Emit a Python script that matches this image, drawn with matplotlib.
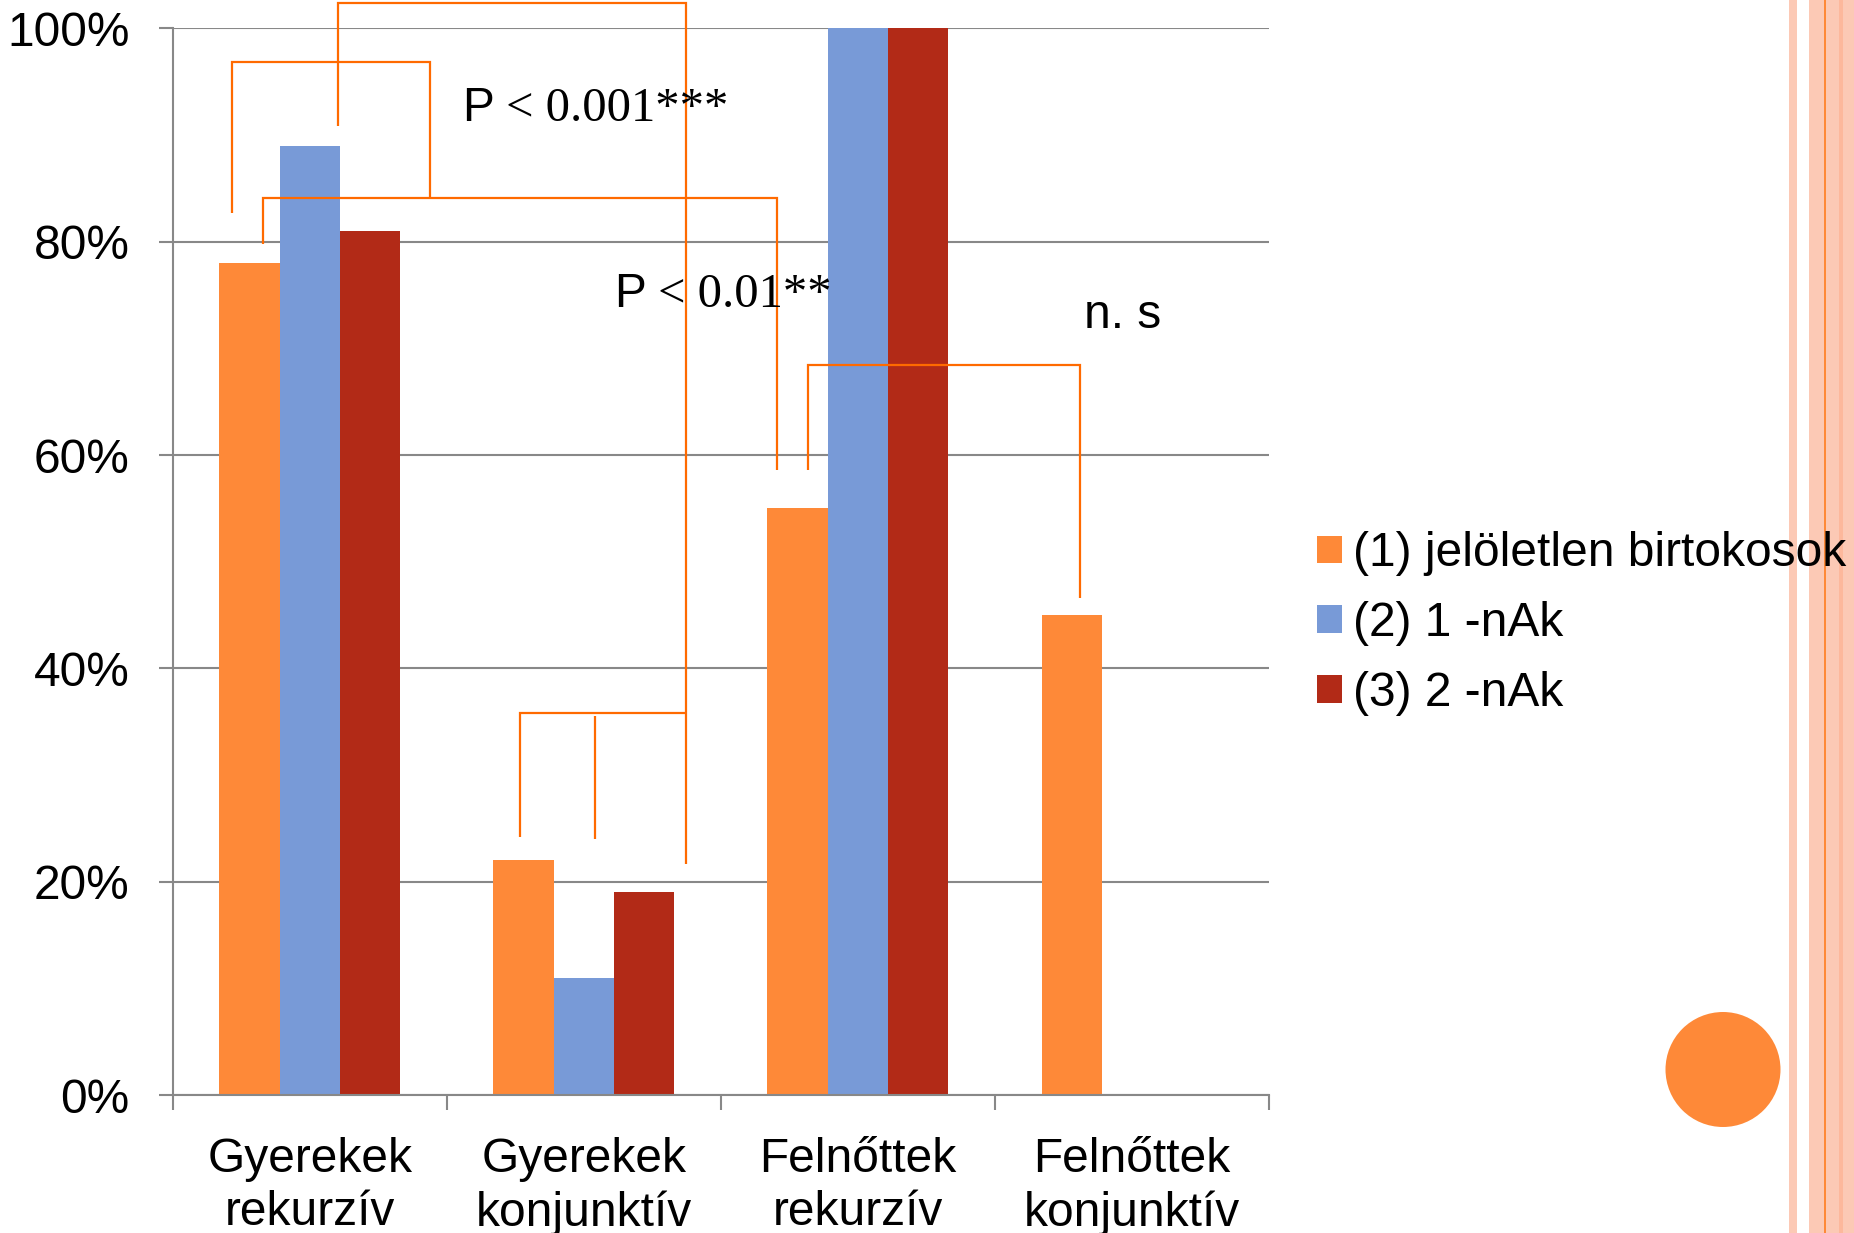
import matplotlib
matplotlib.use("Agg")
import matplotlib.pyplot as plt
from matplotlib.patches import Rectangle, Circle
from matplotlib.transforms import IdentityTransform
from matplotlib.ticker import PercentFormatter, FixedLocator

# Data
categories = ["Gyerekek\nrekurzív", "Gyerekek\nkonjunktív", "Felnőttek\nrekurzív", "Felnőttek\nkonjunktív"]
series_names = ["(1) jelöletlen birtokosok", "(2) 1 -nAk", "(3) 2 -nAk"]
jeloletlen = [0.78, 0.22, 0.55, 0.45]
egy_nak = [0.89, 0.11, 1.00, 0.0]
ket_nak = [0.81, 0.19, 1.00, 0.0]

colors = ["#FE8938", "#789AD7", "#B22A17"]
line_color = "#FF6A00"
grid_color = "#888888"
SANS = "Liberation Sans"
SERIF = "Liberation Serif"
FS = 34.5

# significance brackets, in data units (x = category index, y = share)
brackets = [
    [(-0.283, 0.827), (-0.283, 0.968), (0.439, 0.968), (0.439, 0.8405)],
    [(0.103, 0.908), (0.103, 1.024), (1.373, 1.024), (1.373, 0.2167)],
    [(-0.170, 0.798), (-0.170, 0.8405), (1.705, 0.8405), (1.705, 0.5857)],
    [(0.768, 0.242), (0.768, 0.358), (1.373, 0.358)],
    [(1.041, 0.240), (1.041, 0.3555)],
    [(1.818, 0.586), (1.818, 0.684), (2.811, 0.684), (2.811, 0.466)],
]
p_labels = [("P", " < 0.001***", 0.557, 0.913), ("P", " < 0.01**", 1.111, 0.739)]


def draw_decoration(fig):
    # stripes and dot on the slide, in pixels of the 1854x1233 canvas
    H = 1233.0
    stripes = [(1789, 1797, "#FCC9B5"), (1809, 1824, "#FCC9B5"), (1824, 1826, "#FE8938"),
               (1826, 1839, "#FCC9B5"), (1839, 1843, "#FDB89C"), (1843, 1854, "#FCC9B5")]
    for x0, x1, c in stripes:
        fig.patches.append(Rectangle((x0, 0), x1 - x0, H, transform=IdentityTransform(),
                                     facecolor=c, edgecolor="none", zorder=-1))
    fig.patches.append(Circle((1723, H - 1069.5), 57.5, transform=IdentityTransform(),
                              facecolor="#FE8938", edgecolor="none", zorder=-1))


def main():
    fig = plt.figure(figsize=(18.54, 12.33), dpi=100)
    ax = fig.add_axes([0.0931, 0.1119, 0.6845 - 0.0931, 0.977 - 0.1119])

    x = range(len(categories))
    width = 0.22
    for i, (vals, name) in enumerate(zip([jeloletlen, egy_nak, ket_nak], series_names)):
        ax.bar([xi + (i - 1) * width for xi in x], vals, width, color=colors[i], label=name, zorder=2)

    ax.set_xlim(-0.5, len(categories) - 0.5)
    ax.set_ylim(0, 1)
    ax.yaxis.set_major_locator(FixedLocator([0, 0.2, 0.4, 0.6, 0.8, 1.0]))
    ax.yaxis.set_major_formatter(PercentFormatter(1.0, decimals=0))
    ax.grid(axis="y", color=grid_color, linewidth=1.5, zorder=0)
    ax.set_axisbelow(True)

    ax.set_xticks(list(x))
    ax.set_xticklabels(categories, fontsize=FS, family=SANS, linespacing=1.25)
    ax.set_xticks([k - 0.5 for k in range(len(categories) + 1)], minor=True)
    ax.tick_params(axis="x", which="major", length=0, pad=30)
    ax.tick_params(axis="x", which="minor", length=10.5, width=1.5, color=grid_color)
    ax.tick_params(axis="y", length=10, width=1.5, color=grid_color, pad=21, labelsize=FS)
    for lab in ax.get_yticklabels():
        lab.set_family(SANS)

    for side in ["top", "right"]:
        ax.spines[side].set_visible(False)
    for side in ["left", "bottom"]:
        ax.spines[side].set_color(grid_color)
        ax.spines[side].set_linewidth(1.5)

    for pts in brackets:
        xs = [p[0] for p in pts]
        ys = [p[1] for p in pts]
        ax.plot(xs, ys, color=line_color, linewidth=1.6, clip_on=False, zorder=3,
                solid_capstyle="butt", solid_joinstyle="miter")

    for sans_part, serif_part, tx, ty in p_labels:
        t = ax.text(tx, ty, sans_part, fontsize=FS, family=SANS, va="baseline", ha="left", zorder=4)
        ax.annotate(serif_part, xy=(1, 0), xycoords=t, va="bottom", ha="left",
                    fontsize=35, family=SERIF, zorder=4)
    ax.text(2.825, 0.7195, "n. s", fontsize=FS, family=SANS, va="baseline", ha="left")

    ax.legend(loc="center left", bbox_to_anchor=(0.7104, 0.494), bbox_transform=fig.transFigure,
              frameon=False, prop={"family": SANS, "size": FS}, handlelength=0.52,
              handleheight=0.52, handletextpad=0.24, labelspacing=0.52,
              borderpad=0, borderaxespad=0)

    draw_decoration(fig)
    fig.savefig("out.png", dpi=100)


if __name__ == "__main__":
    main()
